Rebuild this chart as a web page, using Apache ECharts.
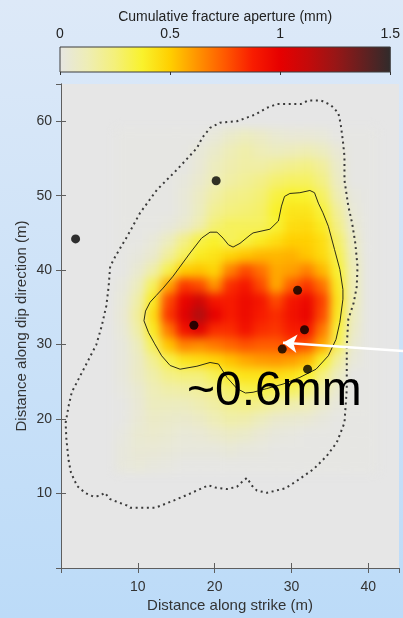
<!DOCTYPE html>
<html>
<head>
<meta charset="utf-8">
<script src="https://cdn.jsdelivr.net/npm/echarts@6/dist/echarts.min.js"></script>
<style>
  html, body { margin: 0; padding: 0; width: 403px; height: 618px; overflow: hidden; }
  .layer { position: absolute; left: 0; top: 0; width: 403px; height: 618px; }
  /* the aperture field is a smooth interpolated surface */
  #field { filter: blur(5px); }
</style>
</head>
<body>
<div id="base" class="layer"></div>
<div id="field" class="layer"></div>
<div id="front" class="layer"></div>
<script>
// ---- data -------------------------------------------------------------
// aperture grid, 2 m cells: column centres (strike) and row centres (dip)
const fieldX = [8, 10, 12, 14, 16, 18, 20, 22, 24, 26, 28, 30, 32, 34, 36, 38, 40];
const fieldY = [58, 56, 54, 52, 50, 48, 46, 44, 42, 40, 38, 36, 34, 32, 30, 28, 26, 24, 22, 20, 18, 16, 14];
// cumulative fracture aperture (mm), one row per fieldY entry
const apertureRows = [
  [0, 0, 0, 0, 0, 0, 0.03, 0.07, 0.10, 0.08, 0.05, 0.04, 0.04, 0.03, 0, 0, 0],
  [0, 0, 0, 0, 0, 0.03, 0.07, 0.12, 0.15, 0.12, 0.10, 0.11, 0.13, 0.10, 0.04, 0, 0],
  [0, 0, 0, 0, 0, 0.04, 0.10, 0.14, 0.16, 0.16, 0.19, 0.21, 0.23, 0.18, 0.07, 0, 0],
  [0, 0, 0, 0, 0.02, 0.06, 0.12, 0.16, 0.19, 0.22, 0.27, 0.29, 0.29, 0.23, 0.09, 0, 0],
  [0, 0, 0, 0, 0.03, 0.09, 0.16, 0.21, 0.23, 0.26, 0.34, 0.38, 0.37, 0.29, 0.13, 0.02, 0],
  [0, 0, 0, 0, 0.03, 0.10, 0.20, 0.24, 0.26, 0.28, 0.38, 0.42, 0.42, 0.35, 0.18, 0.03, 0],
  [0, 0, 0, 0.02, 0.06, 0.14, 0.26, 0.30, 0.30, 0.30, 0.36, 0.45, 0.46, 0.40, 0.22, 0.05, 0],
  [0, 0, 0.03, 0.10, 0.22, 0.33, 0.38, 0.30, 0.34, 0.40, 0.45, 0.50, 0.50, 0.45, 0.28, 0.08, 0],
  [0, 0.02, 0.06, 0.18, 0.30, 0.40, 0.43, 0.48, 0.52, 0.55, 0.55, 0.56, 0.52, 0.46, 0.32, 0.10, 0],
  [0, 0.05, 0.15, 0.32, 0.50, 0.52, 0.48, 0.66, 0.78, 0.70, 0.58, 0.60, 0.66, 0.55, 0.36, 0.12, 0],
  [0.02, 0.10, 0.30, 0.58, 0.82, 0.78, 0.62, 0.84, 0.90, 0.78, 0.58, 0.74, 0.82, 0.70, 0.40, 0.12, 0],
  [0.03, 0.15, 0.40, 0.78, 0.98, 1.08, 0.90, 0.88, 0.95, 0.90, 0.78, 0.90, 0.96, 0.80, 0.42, 0.12, 0],
  [0.04, 0.18, 0.45, 0.82, 1.02, 1.18, 1.00, 0.88, 0.95, 0.88, 0.84, 0.92, 0.98, 0.78, 0.40, 0.10, 0],
  [0.03, 0.15, 0.40, 0.68, 0.92, 1.02, 0.84, 0.84, 0.92, 0.84, 0.82, 0.88, 0.90, 0.68, 0.35, 0.08, 0],
  [0.02, 0.10, 0.30, 0.52, 0.66, 0.64, 0.68, 0.72, 0.76, 0.74, 0.74, 0.80, 0.76, 0.58, 0.30, 0.05, 0],
  [0.02, 0.08, 0.20, 0.32, 0.42, 0.45, 0.48, 0.53, 0.58, 0.61, 0.62, 0.60, 0.55, 0.38, 0.18, 0.03, 0],
  [0.02, 0.08, 0.15, 0.22, 0.25, 0.25, 0.31, 0.40, 0.43, 0.43, 0.45, 0.43, 0.38, 0.24, 0.10, 0, 0],
  [0.01, 0.05, 0.12, 0.15, 0.16, 0.18, 0.22, 0.28, 0.32, 0.33, 0.31, 0.29, 0.25, 0.15, 0.05, 0, 0],
  [0, 0.04, 0.10, 0.10, 0.10, 0.13, 0.16, 0.20, 0.22, 0.20, 0.16, 0.14, 0.12, 0.06, 0.02, 0, 0],
  [0, 0.04, 0.08, 0.07, 0.06, 0.08, 0.12, 0.15, 0.14, 0.10, 0.06, 0.05, 0.04, 0.02, 0, 0, 0],
  [0.01, 0.05, 0.06, 0.05, 0.03, 0.04, 0.06, 0.08, 0.07, 0.04, 0.02, 0.01, 0, 0, 0, 0, 0],
  [0.02, 0.04, 0.04, 0.03, 0.02, 0.02, 0.02, 0.03, 0.02, 0.01, 0, 0, 0, 0, 0, 0, 0],
  [0.02, 0.03, 0.02, 0.01, 0, 0, 0, 0, 0, 0, 0, 0, 0, 0, 0, 0, 0]
];

// fracture extent outline (dotted), [strike, dip] in m
const outline = [
  [0.6, 19.5], [1.0, 21.8], [1.4, 23.6], [2.5, 25.8], [3.6, 28.0], [4.6, 30.0], [5.3, 32.5],
  [5.9, 35.2], [6.2, 37.8], [6.4, 40.5], [7.1, 41.9], [8.6, 44.5], [10.3, 47.7], [12.5, 50.8],
  [15.1, 53.5], [17.7, 56.4], [18.4, 57.8], [19.4, 59.1], [20.7, 59.8], [22.9, 60.0], [25.3, 60.9],
  [26.8, 61.8], [28.1, 62.3], [31.2, 62.3], [32.2, 62.8], [33.8, 62.8], [35.1, 62.2], [36.1, 61.1],
  [36.4, 59.7], [36.7, 57.3], [36.9, 55.3], [36.9, 52.1], [37.4, 48.6], [37.9, 46.3], [38.3, 43.7],
  [38.6, 40.5], [38.5, 37.8], [38.1, 35.6], [37.4, 33.4], [37.2, 29.8], [37.2, 24.0], [36.9, 19.5],
  [35.9, 16.85], [34.6, 15.05], [32.9, 13.3], [30.7, 11.7], [29.2, 10.7], [26.8, 10.1], [25.5, 10.4],
  [24.9, 11.0], [24.2, 12.1], [23.6, 11.6], [22.9, 10.9], [21.6, 10.6], [20.1, 10.8], [19.2, 11.1],
  [18.1, 10.6], [16.6, 9.9], [15.1, 9.25], [13.8, 8.7], [12.3, 8.1], [9.0, 8.1], [8.6, 8.4],
  [7.5, 8.8], [6.4, 9.25], [5.7, 10.1], [5.1, 9.7], [4.2, 9.6], [3.2, 10.05], [2.1, 11.0],
  [1.3, 12.8], [1.0, 14.4], [0.7, 17.3], [0.6, 19.5]
];

// aperture contour (solid)
const contour = [
  [13.1, 28.5], [12.2, 30.1], [11.4, 31.6], [10.8, 33.2], [11.0, 34.5], [11.6, 35.7], [12.4, 36.6],
  [13.3, 37.6], [14.6, 39.2], [16.8, 42.3], [18.3, 44.3], [19.4, 45.1], [20.3, 45.1], [21.1, 44.3],
  [21.8, 43.4], [22.4, 43.1], [23.3, 43.6], [24.6, 44.7], [25.0, 45.0], [27.2, 45.5], [28.3, 46.6],
  [28.7, 48.6], [29.1, 49.9], [29.8, 50.3], [31.1, 50.4], [32.4, 50.7], [33.0, 50.4], [33.5, 49.0],
  [34.1, 47.7], [34.8, 45.9], [35.6, 42.8], [36.3, 40.1], [36.7, 37.4], [36.7, 36.1], [36.3, 33.0],
  [35.8, 30.7], [34.8, 28.5], [33.2, 26.7], [31.1, 25.6], [28.9, 24.7], [26.8, 24.1], [25.0, 23.6],
  [24.0, 23.5], [22.9, 24.1], [21.6, 25.6], [20.5, 27.4], [19.4, 27.6], [17.7, 27.1], [15.5, 26.7],
  [14.2, 27.2], [13.1, 28.5]
];

// borehole intersections
const boreX = [1.9, 20.2, 17.3, 30.8, 31.7, 28.8, 32.1];
const boreY = [44.2, 52.0, 32.6, 37.3, 32.0, 29.4, 26.7];

// callout arrow, tail and head
const arrowTail = [46.5, 29.0];
const arrowHead = [28.9, 30.25];

// axis ticks
const strikeTicks = [0, 10, 20, 30, 40];
const dipTicks = [0, 10, 20, 30, 40, 50, 60];
const colorbarTicks = [0, 0.5, 1, 1.5];

// colour scale, evenly spaced over 0 .. 1.5 mm
const apertureColors = [
  '#e6e6e3', '#eeedb6', '#f4f07a', '#f9f22c', '#ffcf00', '#ff9300', '#ff5800',
  '#f81c00', '#e60000', '#c40a0a', '#981616', '#642020', '#302b2b'
];

// ---- layout ------------------------------------------------------------
const FONT = '"Liberation Sans", Arial, Helvetica, sans-serif';
const AX = '#5e5e5e';
const plotGrid = { left: 61, right: 4, top: 84, bottom: 49 };
const xMin = 0, xMax = 44, yMin = 0, yMax = 65;
const cell = fieldX[1] - fieldX[0];

const fieldData = [];
fieldY.forEach((y, r) => {
  fieldX.forEach((x, c) => {
    fieldData.push([x, y, apertureRows[r][c]]);
  });
});

// background + plot area
const base = echarts.init(document.getElementById('base'), null, { renderer: 'canvas' });
base.setOption({
  animation: false,
  backgroundColor: {
    type: 'linear', x: 0, y: 0, x2: 0, y2: 1,
    colorStops: [{ offset: 0, color: '#dde9f8' }, { offset: 1, color: '#bcdbf8' }]
  },
  grid: Object.assign({ show: true, backgroundColor: '#e6e6e6', borderWidth: 0 }, plotGrid),
  xAxis: { type: 'value', min: xMin, max: xMax, show: false },
  yAxis: { type: 'value', min: yMin, max: yMax, show: false },
  series: []
});

// aperture field
const field = echarts.init(document.getElementById('field'), null, { renderer: 'canvas' });
field.setOption({
  animation: false,
  grid: plotGrid,
  xAxis: { type: 'value', min: xMin, max: xMax, show: false },
  yAxis: { type: 'value', min: yMin, max: yMax, show: false },
  visualMap: {
    type: 'continuous', show: false, min: 0, max: 1.5, dimension: 2, seriesIndex: 0,
    inRange: { color: apertureColors }
  },
  series: [{
    type: 'custom',
    data: fieldData,
    renderItem: function (params, api) {
      const x = api.value(0), y = api.value(1);
      const p0 = api.coord([x - cell / 2, y + cell / 2]);
      const p1 = api.coord([x + cell / 2, y - cell / 2]);
      return {
        type: 'rect',
        shape: { x: p0[0], y: p0[1], width: p1[0] - p0[0] + 0.6, height: p1[1] - p0[1] + 0.6 },
        style: { fill: api.visual('color') }
      };
    }
  }]
});

// axes, outlines, boreholes, colour bar, annotation
const cbStops = apertureColors.map((c, i) => ({ offset: i / (apertureColors.length - 1), color: c }));
const front = echarts.init(document.getElementById('front'), null, { renderer: 'canvas' });
const tickStyle = { inside: true, length: 5, lineStyle: { color: AX, width: 1 } };
front.setOption({
  animation: false,
  textStyle: { fontFamily: FONT },
  grid: [
    plotGrid,
    {
      left: 60, right: 3, top: 47, height: 25, show: true,
      backgroundColor: { type: 'linear', x: 0, y: 0, x2: 1, y2: 0, colorStops: cbStops },
      borderColor: '#3c3c3c', borderWidth: 1
    }
  ],
  xAxis: [
    {
      gridIndex: 0, type: 'value', min: xMin, max: xMax, interval: strikeTicks[1] - strikeTicks[0],
      position: 'bottom',
      name: 'Distance along strike (m)', nameLocation: 'middle', nameGap: 30, nameMoveOverlap: false,
      nameTextStyle: { fontSize: 15, color: '#333', fontFamily: FONT },
      axisLine: { lineStyle: { color: AX, width: 1 } },
      axisTick: tickStyle,
      axisLabel: { fontSize: 14, color: '#333', margin: 12, showMinLabel: false, showMaxLabel: false, fontFamily: FONT },
      splitLine: { show: false }
    },
    {
      gridIndex: 0, type: 'value', min: xMin, max: xMax, interval: strikeTicks[1] - strikeTicks[0],
      position: 'top',
      axisLine: { lineStyle: { color: AX, width: 1 } },
      axisTick: tickStyle,
      axisLabel: { show: false },
      splitLine: { show: false }
    },
    {
      gridIndex: 1, type: 'value', min: colorbarTicks[0], max: colorbarTicks[colorbarTicks.length - 1],
      interval: colorbarTicks[1] - colorbarTicks[0], position: 'top',
      name: 'Cumulative fracture aperture (mm)', nameLocation: 'middle', nameGap: 23, nameMoveOverlap: false,
      nameTextStyle: { fontSize: 14, color: '#222', fontFamily: FONT },
      axisLine: { show: false },
      axisTick: { inside: true, length: 3, lineStyle: { color: '#333' } },
      axisLabel: { fontSize: 14, color: '#222', margin: 6, fontFamily: FONT },
      splitLine: { show: false }
    }
  ],
  yAxis: [
    {
      gridIndex: 0, type: 'value', min: yMin, max: yMax, interval: dipTicks[1] - dipTicks[0],
      position: 'left',
      name: 'Distance along dip direction (m)', nameLocation: 'middle', nameGap: 32, nameMoveOverlap: false,
      nameTextStyle: { fontSize: 15, color: '#333', fontFamily: FONT },
      axisLine: { lineStyle: { color: AX, width: 1 } },
      axisTick: tickStyle,
      axisLabel: { fontSize: 14, color: '#333', margin: 9, showMinLabel: false, showMaxLabel: false, fontFamily: FONT },
      splitLine: { show: false }
    },
    {
      gridIndex: 0, type: 'value', min: yMin, max: yMax, interval: dipTicks[1] - dipTicks[0],
      position: 'right',
      axisLine: { lineStyle: { color: AX, width: 1 } },
      axisTick: tickStyle,
      axisLabel: { show: false },
      splitLine: { show: false }
    },
    { gridIndex: 1, type: 'value', min: 0, max: 1, show: false }
  ],
  series: [
    {
      type: 'line', xAxisIndex: 0, yAxisIndex: 0, data: outline, showSymbol: false, symbol: 'none',
      lineStyle: { color: '#3a3a3a', width: 2, type: [2, 3.6], cap: 'butt' }, z: 3
    },
    {
      type: 'line', xAxisIndex: 0, yAxisIndex: 0, data: contour, showSymbol: false, symbol: 'none',
      lineStyle: { color: '#2c2c14', width: 1 }, z: 3
    },
    {
      type: 'scatter', xAxisIndex: 0, yAxisIndex: 0,
      data: boreX.map((x, i) => [x, boreY[i]]),
      symbol: 'circle', symbolSize: 9, itemStyle: { color: '#000' }, z: 4
    },
    {
      type: 'lines', coordinateSystem: 'cartesian2d', xAxisIndex: 0, yAxisIndex: 0, clip: false,
      data: [{ coords: [arrowTail, arrowHead] }],
      symbol: ['none', 'arrow'], symbolSize: 14,
      lineStyle: { color: '#ffffff', width: 2.5, opacity: 1, curveness: 0 }, z: 5
    }
  ],
  graphic: [{
    type: 'text', x: 187, y: 392, z: 10,
    style: {
      text: '~0.6mm', fontSize: 48, fontFamily: FONT, fill: '#000',
      align: 'left', verticalAlign: 'middle'
    }
  }]
});
</script>
</body>
</html>
